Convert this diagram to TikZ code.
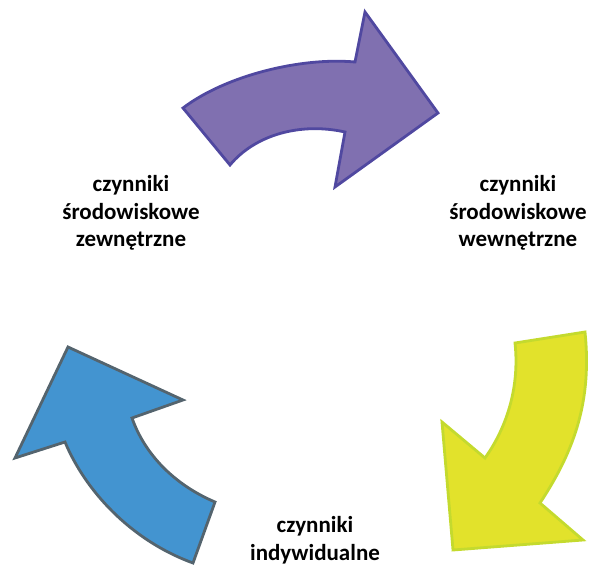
\documentclass[tikz,border=0pt]{standalone}
\usepackage{fontspec}
\setmainfont{Carlito}
\definecolor{purplefill}{RGB}{128,112,176}
\definecolor{purpleline}{RGB}{80,72,160}
\definecolor{yellowfill}{RGB}{226,226,43}
\definecolor{yellowline}{RGB}{196,218,46}
\definecolor{bluefill}{RGB}{67,148,208}
\definecolor{blueline}{RGB}{84,100,110}
\begin{document}
\begin{tikzpicture}[x=1pt,y=-1pt,
  arrowshape/.style={line width=2.8pt,line join=miter},
  label/.style={align=center,font=\fontsize{23}{27.5}\selectfont\bfseries,inner sep=0pt}]
\useasboundingbox (0,0) rectangle (590,567);
% purple arrow
\path[arrowshape,fill=purplefill,draw=purpleline]
  (183,108) .. controls (225,76) and (300,57) .. (355,62)
  -- (365,12) -- (438,113) -- (335,187) -- (345,132)
  .. controls (300,122) and (255,135) .. (230,165) -- cycle;
% yellow arrow
\path[arrowshape,fill=yellowfill,draw=yellowline]
  (515,343) -- (585,332) .. controls (592,400) and (575,450) .. (540,503)
  -- (583,540) -- (453,550) -- (442,422) -- (485,458)
  .. controls (505,430) and (520,390) .. (515,343) -- cycle;
% blue arrow
\path[arrowshape,fill=bluefill,draw=blueline]
  (193,563) .. controls (130,540) and (85,490) .. (65,442)
  -- (15,458) -- (68,347) -- (183,400) -- (132,418)
  .. controls (145,455) and (175,485) .. (215,502) -- cycle;
% labels
\node[label] (zew) at (131,213) {czynniki\\środowiskowe\\zewnętrzne};
\node[label] (wew) at (518,213) {czynniki\\środowiskowe\\wewnętrzne};
\node[label] (ind) at (315,540) {czynniki\\indywidualne};
\end{tikzpicture}
\end{document}
